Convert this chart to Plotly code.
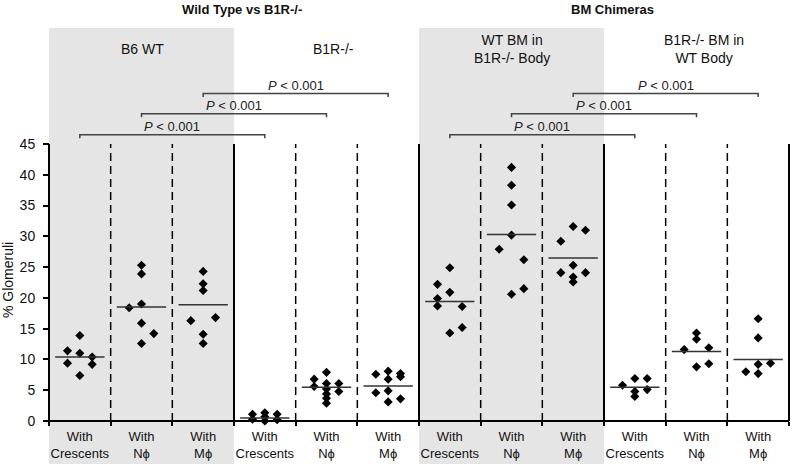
import plotly.graph_objects as go

# ---------------- data ----------------
categories = ["With<br>Crescents", "With<br>Nϕ", "With<br>Mϕ"] * 4
group_labels = ["B6 WT", "B1R-/-", "WT BM in<br>B1R-/- Body", "B1R-/- BM in<br>WT Body"]
panel_titles = ["Wild Type vs B1R-/-", "BM Chimeras"]

# values per column (12 columns)
values = [
    [11.4, 13.9, 11.0, 9.4, 10.4, 9.2, 7.4],
    [25.3, 23.9, 18.4, 19.0, 15.9, 14.2, 12.6],
    [24.3, 22.3, 21.2, 16.3, 16.8, 14.1, 12.6],
    [1.1, 0.3, 1.35, 0.7, 0.0, 1.1, 0.2],
    [7.9, 6.8, 5.6, 6.1, 5.2, 4.4, 3.7, 2.9, 6.1, 4.8],
    [7.6, 8.1, 6.8, 7.7, 7.2, 4.6, 4.9, 3.1, 3.6],
    [24.9, 22.2, 20.9, 19.9, 18.7, 18.6, 15.2, 14.3],
    [41.2, 38.3, 35.1, 30.2, 27.9, 26.2, 21.5, 20.6],
    [31.6, 31.0, 29.2, 25.3, 24.1, 24.1, 23.4, 22.6],
    [5.8, 6.9, 6.9, 5.1, 4.8, 4.0],
    [14.3, 13.3, 11.6, 11.9, 8.8, 9.3],
    [16.6, 13.5, 9.4, 9.2, 8.0, 7.7],
]
# horizontal slot of each point (-1 left, 0 centre, 1 right)
slots = [
    [-1, 0, 0, -1, 1, 1, 0],
    [0, 0, -1, 0, 0, 1, 0],
    [0, 0, 0, -1, 1, 0, 0],
    [-1, -1, 0, 0, 0, 1, 1],
    [0, -1, -1, 0, 0, 0, 0, 0, 1, 1],
    [-1, 0, 0, 1, 1, -1, 0, 0, 1],
    [0, -1, 0, -1, -1, 1, 1, 0],
    [0, 0, 0, 0, -1, 1, 1, 0],
    [0, 1, -1, 0, -1, 1, 0, 0],
    [-1, 0, 1, 1, 0, 0],
    [0, 0, -1, 1, 0, 1],
    [0, 0, 1, 0, -1, 0],
]
medians = [10.4, 18.5, 18.9, 0.5, 5.5, 5.7, 19.4, 30.3, 26.5, 5.5, 11.3, 10.0]

# comparisons: (column a, column b, bracket height)
comparisons = [(0, 3, 46.5), (1, 4, 49.9), (2, 5, 53.2),
               (6, 9, 46.5), (7, 10, 49.9), (8, 11, 53.2)]
p_text = "<i>P</i> &lt; 0.001"

y_ticks = list(range(0, 50, 5))

# ---------------- geometry ----------------
W, H = 792, 464
x0_px, col_px = 49, 740 / 12
y0_px, unit_px = 421, 277 / 45
x_range = [-x0_px / col_px, (W - x0_px) / col_px]
y_range = [-(H - y0_px) / unit_px, y0_px / unit_px]
slot_w = 0.2
half_med = 0.4
FONT = "Liberation Sans, Arial, sans-serif"

fig = go.Figure()

# points
px_, py_ = [], []
for i, (vals, sl) in enumerate(zip(values, slots)):
    for v, s in zip(vals, sl):
        px_.append(i + 0.5 + s * slot_w)
        py_.append(v)
fig.add_trace(go.Scatter(x=px_, y=py_, mode="markers",
                         marker=dict(symbol="diamond", size=7, color="black"),
                         hoverinfo="skip", showlegend=False))

# median lines
mx, my = [], []
for i, m in enumerate(medians):
    mx += [i + 0.5 - half_med, i + 0.5 + half_med, None]
    my += [m, m, None]
fig.add_trace(go.Scatter(x=mx, y=my, mode="lines",
                         line=dict(color="#333333", width=1.5),
                         hoverinfo="skip", showlegend=False))

# brackets
bx, by = [], []
for a, b, h in comparisons:
    xa, xb = a + 0.5, b + 0.5
    bx += [xa, xa, xb, xb, None]
    by += [h - 0.55, h, h, h - 0.55, None]
    fig.add_annotation(x=(xa + xb) / 2, y=h, text=p_text, showarrow=False,
                       yanchor="bottom", yshift=-1,
                       font=dict(size=13, color="#222222", family=FONT))
fig.add_trace(go.Scatter(x=bx, y=by, mode="lines",
                         line=dict(color="#444444", width=1.5),
                         hoverinfo="skip", showlegend=False))

# shading
gray_top = (y0_px - 28) / unit_px
for g in (0, 6):
    fig.add_shape(type="rect", x0=g, x1=g + 3, y0=y_range[0], y1=gray_top,
                  fillcolor="#e5e5e5", line=dict(width=0), layer="below")

# vertical separators
for k in range(13):
    if k % 3 == 0:
        fig.add_shape(type="line", x0=k, x1=k, y0=0, y1=45,
                      line=dict(color="black", width=2), layer="above")
    else:
        fig.add_shape(type="line", x0=k, x1=k, y0=0, y1=45,
                      line=dict(color="black", width=1.5, dash="8px,5px"), layer="above")
# x axis baseline
fig.add_shape(type="line", x0=0, x1=12, y0=0, y1=0,
              line=dict(color="black", width=2), layer="above")

# group labels and titles
group_x = [1.51, 4.62, 7.5, 10.62]
for gx, gl in zip(group_x, group_labels):
    fig.add_annotation(x=gx, y=(y0_px - 48.5) / unit_px, text=gl, showarrow=False,
                       yanchor="middle", font=dict(size=14, color="#111111", family=FONT))
title_x = [3.13, 9.14]
for tx, tt in zip(title_x, panel_titles):
    fig.add_annotation(x=tx, y=(y0_px - 9) / unit_px, text="<b>" + tt + "</b>",
                       showarrow=False, yanchor="middle",
                       font=dict(size=13, color="#111111", family=FONT))

# y axis title
fig.add_annotation(xref="paper", x=8 / W, y=22.9, text="% Glomeruli", textangle=-90,
                   showarrow=False, xanchor="center", yanchor="middle",
                   font=dict(size=14, color="#111111", family=FONT))

fig.update_layout(
    width=W, height=H,
    margin=dict(l=0, r=0, t=0, b=0),
    paper_bgcolor="white", plot_bgcolor="rgba(0,0,0,0)",
    showlegend=False,
    font=dict(family=FONT, color="#111111"),
    xaxis=dict(range=x_range, anchor="free", position=(0 - y_range[0]) / (y_range[1] - y_range[0]),
               tickvals=[i + 0.5 for i in range(12)], ticktext=categories,
               ticks="", showline=False, showgrid=False, zeroline=False,
               tickfont=dict(size=13, color="#111111"), ticklabelstandoff=6,
               minor=dict(tickvals=list(range(13)), ticks="outside", ticklen=4,
                          tickwidth=1.5, tickcolor="black")),
    yaxis=dict(range=y_range, anchor="free", position=x0_px / W,
               tickvals=y_ticks, ticks="outside", ticklen=6, tickwidth=1.5,
               tickcolor="black", showline=False, showgrid=False, zeroline=False,
               tickfont=dict(size=14, color="#111111"), ticklabelstandoff=5),
)

fig.write_html("out.html", config={"displayModeBar": False},
               post_script="document.body.style.margin='0';document.body.style.overflow='hidden';")
